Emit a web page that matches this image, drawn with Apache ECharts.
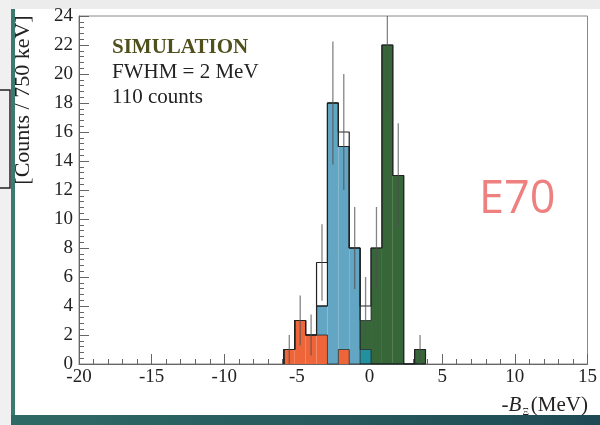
<!DOCTYPE html>
<html>
<head>
<meta charset="utf-8">
<script src="https://cdn.jsdelivr.net/npm/echarts@6/dist/echarts.min.js"></script>
<style>
  html, body { margin: 0; padding: 0; background: #ffffff; }
  #chart { width: 600px; height: 425px; }
</style>
</head>
<body>
<div id="chart"></div>
<script>
// histogram bins: 0.75 MeV wide, first lower edge
const binLow = -5.9;
const binWidth = 0.75;

// counts per bin (stacked components) and the hollow total histogram
const orange = [1, 3, 2, 2, 0, 1, 0, 0, 0, 0, 0, 0, 0];
const blue   = [0, 0, 0, 2, 18, 14, 8, 0, 0, 0, 0, 0, 0];
const teal   = [0, 0, 0, 0, 0, 0, 0, 1, 0, 0, 0, 0, 0];
const green  = [0, 0, 0, 0, 0, 0, 0, 2, 8, 22, 13, 0, 1];
const total  = [1, 3, 2, 7, 18, 16, 8, 4, 8, 22, 13, 0, 1];

const xTicks = [-20, -15, -10, -5, 0, 5, 10, 15];
const yTicks = [0, 2, 4, 6, 8, 10, 12, 14, 16, 18, 20, 22, 24];

const layers = [
  { name: 'orange', vals: orange, color: '#ef653a' },
  { name: 'blue', vals: blue, color: '#62a6c4' },
  { name: 'teal', vals: teal, color: '#22909e' },
  { name: 'green', vals: green, color: '#376639' }
];

const edge = i => binLow + i * binWidth;

// cumulative tops for stacking
let cum = orange.map(() => 0);
const fillSeries = [];
const stepSeries = [];

const stepPath = arr => {
  const pts = [[edge(0), 0]];
  arr.forEach((v, i) => {
    pts.push([edge(i), v]);
    pts.push([edge(i + 1), v]);
  });
  pts.push([edge(arr.length), 0]);
  return pts;
};

layers.forEach(l => {
  const items = [];
  const top = cum.map((c, i) => c + l.vals[i]);
  l.vals.forEach((v, i) => {
    if (v > 0) items.push([edge(i), edge(i + 1), cum[i], top[i]]);
  });
  fillSeries.push({
    type: 'custom',
    name: l.name,
    z: 2,
    silent: true,
    data: items,
    encode: { x: [0, 1], y: [2, 3] },
    renderItem: (params, api) => {
      const p0 = api.coord([api.value(0), api.value(3)]);
      const p1 = api.coord([api.value(1), api.value(2)]);
      return {
        type: 'rect',
        shape: { x: p0[0], y: p0[1], width: p1[0] - p0[0], height: p1[1] - p0[1] },
        style: { fill: l.color }
      };
    }
  });
  stepSeries.push({
    type: 'line',
    z: 3,
    silent: true,
    showSymbol: false,
    data: stepPath(top),
    lineStyle: { color: 'rgba(25,35,35,0.75)', width: 1 }
  });
  cum = top;
});

const errData = total.map((v, i) => [edge(i) + binWidth / 2, v - Math.sqrt(v), v + Math.sqrt(v)]).filter((d, i) => total[i] > 0);

const serif = '"Liberation Serif", "DejaVu Serif", serif';

const chart = echarts.init(document.getElementById('chart'));

const option = {
  backgroundColor: '#ffffff',
  animation: false,
  grid: { left: 79, right: 11, top: 16, bottom: 61, show: true, borderColor: '#8a8a8a', borderWidth: 1, backgroundColor: '#ffffff' },
  xAxis: {
    type: 'value',
    min: xTicks[0],
    max: xTicks[xTicks.length - 1],
    interval: 5,
    axisLine: { onZero: false, lineStyle: { color: '#666', width: 1 } },
    axisTick: { inside: true, length: 10, lineStyle: { color: '#666' } },
    minorTick: { show: true, splitNumber: 5, length: 5, lineStyle: { color: '#666' } },
    splitLine: { show: false },
    axisLabel: { fontFamily: serif, fontSize: 19, color: '#222', margin: 4 }
  },
  yAxis: {
    type: 'value',
    min: yTicks[0],
    max: yTicks[yTicks.length - 1],
    interval: 2,
    axisLine: { show: true, onZero: false, lineStyle: { color: '#666', width: 1 } },
    axisTick: { show: true, inside: true, length: 10, lineStyle: { color: '#666' } },
    minorTick: { show: true, splitNumber: 5, length: 5, lineStyle: { color: '#666' } },
    splitLine: { show: false },
    axisLabel: { fontFamily: serif, fontSize: 19, color: '#222', margin: 6 }
  },
  graphic: [
    { type: 'rect', silent: true, shape: { x: 0, y: 0, width: 600, height: 9 }, style: { fill: '#ececec' } },
    { type: 'rect', silent: true, shape: { x: 0, y: 0, width: 11, height: 425 }, style: { fill: '#f0f0f0' } },
    { type: 'rect', silent: true, shape: { x: -2, y: 90, width: 12, height: 98 }, style: { fill: 'none', stroke: '#222', lineWidth: 1.5 } },
    { type: 'rect', silent: true, shape: { x: 11, y: 9, width: 4, height: 416 }, style: { fill: '#3c7a70' } },
    { type: 'rect', silent: true, shape: { x: 11, y: 415, width: 589, height: 10 }, style: {
      fill: new echarts.graphic.LinearGradient(0, 0, 1, 0, [
        { offset: 0, color: '#2f6a66' }, { offset: 1, color: '#1f4a55' }
      ]) } },
    { type: 'text', silent: true, x: 23, y: 100, rotation: Math.PI / 2,
      style: { text: '[Counts / 750 keV]', font: '22px ' + serif, fill: '#222', align: 'center', verticalAlign: 'middle' } },
    { type: 'text', silent: true, right: 12, top: 395,
      style: {
        text: '{t|-}{i|B}{s|Ξ}{t|(MeV)}',
        rich: {
          t: { fontFamily: serif, fontSize: 21, fill: '#222' },
          i: { fontFamily: serif, fontSize: 21, fontStyle: 'italic', fill: '#222' },
          s: { fontFamily: serif, fontSize: 10, fill: '#222', padding: [13, 2, 0, 1] }
        }
      } },
    { type: 'text', silent: true, left: 112, top: 37,
      style: { text: 'SIMULATION', font: 'bold 21px ' + serif, fill: '#4f501c' } },
    { type: 'text', silent: true, left: 112, top: 62,
      style: { text: 'FWHM = 2 MeV', font: '21px ' + serif, fill: '#222' } },
    { type: 'text', silent: true, left: 112, top: 87,
      style: { text: '110 counts', font: '21px ' + serif, fill: '#222' } },
    { type: 'text', silent: true, left: 479, top: 178,
      style: { text: 'E70', font: '45px "Open Sans", sans-serif', fill: '#ef8080' } }
  ],
  series: [
    ...fillSeries,
    ...stepSeries,
    {
      type: 'line',
      name: 'total',
      z: 4,
      silent: true,
      showSymbol: false,
      data: stepPath(total),
      lineStyle: { color: '#222', width: 1.2 }
    },
    {
      type: 'custom',
      name: 'errors',
      z: 5,
      silent: true,
      data: errData,
      encode: { x: 0, y: [1, 2] },
      renderItem: (params, api) => {
        const lo = api.coord([api.value(0), Math.max(api.value(1), 0)]);
        const hi = api.coord([api.value(0), api.value(2)]);
        return {
          type: 'line',
          shape: { x1: lo[0], y1: lo[1], x2: hi[0], y2: Math.max(hi[1], 16) },
          style: { stroke: 'rgba(80,80,80,0.7)', lineWidth: 1.3 }
        };
      }
    }
  ]
};

chart.setOption(option);
window.addEventListener('resize', () => chart.resize());
</script>
</body>
</html>
